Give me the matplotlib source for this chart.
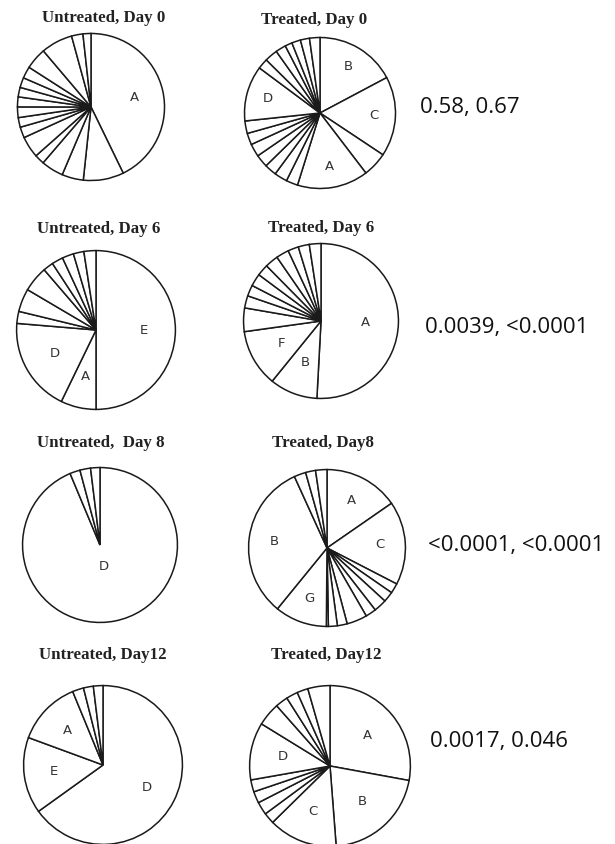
import matplotlib
matplotlib.use("Agg")
import matplotlib.pyplot as plt

W, H = 615, 844

# slice sizes in degrees, clockwise from 12 o'clock
ut_d0 = [154, 32, 17, 17.6, 7.8, 17, 8.6, 7.6, 8.4, 7.9, 7.5, 7.9, 9.3, 17, 25, 9, 6.3]
ut_d0_lab = ["A"] + [""] * 16
tr_d0 = [62, 61.5, 19, 54.7, 9, 10, 9.3, 9.8, 9.9, 8.9, 9.6, 42.7, 8, 10, 8, 5.5, 6.8, 7, 8]
tr_d0_lab = ["B", "C", "", "A", "", "", "", "", "", "", "", "D", "", "", "", "", "", "", ""]
ut_d6 = [180, 25.9, 68.9, 8.8, 16.9, 18.8, 7.5, 8.3, 8.4, 7.7, 8.8]
ut_d6_lab = ["E", "A", "D", "", "", "", "", "", "", "", ""]
tr_d6 = [183, 36, 43, 17.7, 9.2, 8.3, 9.4, 8.7, 10, 9.6, 8, 8.3, 8.7]
tr_d6_lab = ["A", "B", "F", "", "", "", "", "", "", "", "", "", ""]
ut_d8 = [337.3, 7.7, 8, 7]
ut_d8_lab = ["D", "", "", ""]
tr_d8 = [55.3, 62, 7.4, 7.8, 9.6, 7.9, 15.1, 7.3, 6.6, 1.5, 38.7, 116.3, 8.7, 7.4, 8.4]
tr_d8_lab = ["A", "C", "", "", "", "", "", "", "", "", "G", "B", "", "", ""]
ut_d12 = [234.3, 55.9, 47.4, 8.2, 7.2, 7]
ut_d12_lab = ["D", "E", "A", "", "", ""]
tr_d12 = [100.4, 75.2, 49.9, 8, 9.4, 8.4, 8.7, 41.6, 16.9, 9.1, 8.4, 8, 16]
tr_d12_lab = ["A", "B", "C", "", "", "", "", "D", "", "", "", "", ""]

titles = ["Untreated, Day 0", "Treated, Day 0",
          "Untreated, Day 6", "Treated, Day 6",
          "Untreated,  Day 8", "Treated, Day8",
          "Untreated, Day12", "Treated, Day12"]
pvalues = ["0.58, 0.67", "0.0039, <0.0001", "<0.0001, <0.0001", "0.0017, 0.046"]

data = [(ut_d0, ut_d0_lab), (tr_d0, tr_d0_lab), (ut_d6, ut_d6_lab), (tr_d6, tr_d6_lab),
        (ut_d8, ut_d8_lab), (tr_d8, tr_d8_lab), (ut_d12, ut_d12_lab), (tr_d12, tr_d12_lab)]

# layout in pixels: pie centre x, centre y, radius, title x, title y, label distance
layout = [(91, 107, 75, 104, 18, 0.6),
          (320, 113, 77, 314, 20, 0.72),
          (96, 330, 81, 99, 229, 0.6),
          (321, 321, 79, 321, 228, 0.58),
          (100, 545, 79, 101, 443, 0.28),
          (327, 548, 80, 323, 443, 0.68),
          (103, 765, 81, 103, 655, 0.62),
          (330, 766, 82, 326, 655, 0.6)]
pv_pos = [(420, 107), (425, 328), (428, 545), (430, 742)]

fig = plt.figure(figsize=(W / 100, H / 100), dpi=100)

for (sizes, labs), (cx, cy, r, tx, ty, ld) in zip(data, layout):
    ax = fig.add_axes([(cx - r) / W, 1 - (cy + r) / H, 2 * r / W, 2 * r / H])
    ax.pie(sizes, labels=labs, startangle=90, counterclock=False,
           labeldistance=ld, colors=["white"] * len(sizes),
           wedgeprops=dict(edgecolor="#1a1a1a", linewidth=1.1),
           textprops=dict(fontsize=9.5, family="DejaVu Sans", color="#333333",
                          ha="center", va="center"))
    ax.set_xlim(-1.02, 1.02)
    ax.set_ylim(-1.02, 1.02)
    ax.axis("off")

for t, (cx, cy, r, tx, ty, ld) in zip(titles, layout):
    fig.text(tx / W, 1 - ty / H, t, ha="center", va="center",
             family="Liberation Serif", fontweight="bold", fontsize=12.2, color="#222222")

for p, (px, py) in zip(pvalues, pv_pos):
    fig.text(px / W, 1 - py / H, p, ha="left", va="center",
             family="Open Sans", fontsize=16, color="#111111")

fig.savefig("out.png", dpi=100, facecolor="white")
